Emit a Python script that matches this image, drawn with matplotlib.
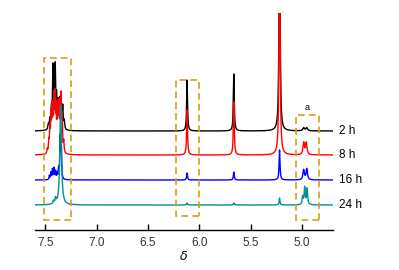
import numpy as np
import matplotlib
matplotlib.use("Agg")
import matplotlib.pyplot as plt
from matplotlib.patches import Rectangle
from matplotlib.transforms import blended_transform_factory

plt.rcParams['font.family'] = ['Liberation Sans', 'DejaVu Sans']

# ---- data (peak lists; heights in plot units above each trace's baseline) ----
labels = ["2 h", "8 h", "16 h", "24 h"]
colors = ["#000000", "#FF0000", "#0000FF", "#009090"]
offsets = [99, 75, 50, 25]

black_ppm = [7.47, 7.455, 7.44, 7.425, 7.415, 7.403, 7.39, 7.375, 7.36, 7.345, 7.33, 7.315, 6.12, 5.665, 5.22, 4.985, 4.955]
black_int = [5, 9, 18, 58, 20, 58, 28, 24, 27, 24, 22, 8, 51, 57, 300, 3, 3]
black_w = [0.005] * 12 + [0.005, 0.005, 0.005, 0.01, 0.01]

red_ppm = [7.48, 7.465, 7.455, 7.445, 7.435, 7.425, 7.415, 7.405, 7.395, 7.385, 7.375, 7.365, 7.355, 7.345, 7.335, 7.32,
           6.12, 5.665, 5.22, 4.985, 4.96]
red_int = [4, 11, 22, 33, 40, 34, 45, 50, 35, 30, 40, 42, 28, 52, 32, 11,
           45, 53, 300, 12, 12]
red_w = [0.004] * 16 + [0.005, 0.005, 0.005, 0.008, 0.008]

blue_ppm = [7.46, 7.445, 7.43, 7.415, 7.40, 7.385, 7.37, 7.355, 7.345, 6.12, 5.665, 5.22, 4.985, 4.955]
blue_int = [4, 7, 10, 11, 8, 6, 10, 40, 35, 7, 8, 30, 10, 11]
blue_w = [0.004] * 9 + [0.005, 0.005, 0.005, 0.008, 0.008]

teal_ppm = [7.42, 7.40, 7.35, 6.12, 5.665, 5.22, 4.995, 4.975, 4.952]
teal_int = [3, 5, 100, 2, 2, 7, 8, 17, 16]
teal_w = [0.006, 0.006, 0.009, 0.005, 0.005, 0.005, 0.006, 0.006, 0.006]

peaks = [(black_ppm, black_int, black_w), (red_ppm, red_int, red_w),
         (blue_ppm, blue_int, blue_w), (teal_ppm, teal_int, teal_w)]

ticks = [7.5, 7.0, 6.5, 6.0, 5.5, 5.0]
boxes = [(7.25, 10, 7.51, 172), (6.005, 14, 6.228, 150), (4.84, 10, 5.063, 115)]

# ---- figure ----
fig = plt.figure(figsize=(3.99, 2.70), dpi=100)
ax = fig.add_axes([35 / 399, 40 / 270, 298 / 399, 217 / 270])

x = np.linspace(4.70, 7.60, 14000)
for (pp, hh, ww), c, off in zip(peaks, colors, offsets):
    y = np.zeros_like(x)
    for p, h, w in zip(pp, hh, ww):
        y += h * w ** 2 / ((x - p) ** 2 + w ** 2)
    ax.plot(x, y + off, color=c, lw=1.0)

for x0, y0, x1, y1 in boxes:
    ax.add_patch(Rectangle((x0, y0), x1 - x0, y1 - y0, fill=False, ec="#D4A017",
                           lw=1.2, ls=(0, (4, 2.5)), clip_on=False, zorder=5))

trans = blended_transform_factory(ax.transAxes, ax.transData)
for lab, off in zip(labels, offsets):
    ax.text(1.02, off, lab, transform=trans, fontsize=8.5, va="center", ha="left")

ax.text(4.95, 122, "a", fontsize=6.5, ha="center", va="center")

ax.set_xlim(7.60, 4.70)
ax.set_ylim(0, 217)
for s in ["top", "left", "right"]:
    ax.spines[s].set_visible(False)
ax.spines["bottom"].set_linewidth(1.0)
ax.set_yticks([])
ax.set_xticks(ticks)
ax.set_xticklabels([f"{t:.1f}" for t in ticks])
ax.tick_params(axis="x", direction="in", length=4, width=1.0, labelsize=8.5, pad=5,
               colors="black", labelcolor="#333333")
ax.set_xlabel(r"$\delta$", fontsize=9, labelpad=1)

fig.savefig("out.png", dpi=100)
